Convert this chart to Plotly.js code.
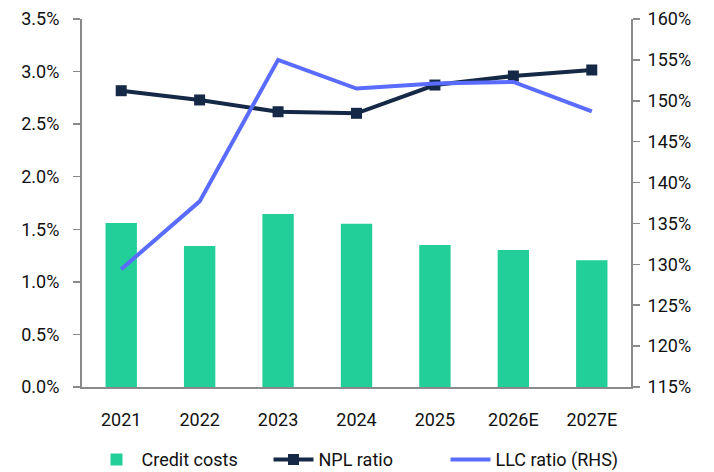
<!DOCTYPE html>
<html>
<head>
<meta charset="utf-8">
<script src="https://cdn.plot.ly/plotly-3.0.1.min.js"></script>
<style>html,body{margin:0;padding:0;background:#fff;}#chart{width:714px;height:472px;}</style>
</head>
<body>
<div id="chart"></div>
<script>
const years = ["2021", "2022", "2023", "2024", "2025", "2026E", "2027E"];
const creditCosts = [1.56, 1.34, 1.645, 1.553, 1.35, 1.303, 1.205];
const nplRatio = [2.818, 2.73, 2.618, 2.603, 2.872, 2.958, 3.015];
const llcRatio = [129.4, 137.7, 155.0, 151.5, 152.1, 152.3, 148.7];
const leftTicks = [0, 0.5, 1.0, 1.5, 2.0, 2.5, 3.0, 3.5];
const rightTicks = [115, 120, 125, 130, 135, 140, 145, 150, 155, 160];

const font = {family: "Roboto, 'Liberation Sans', sans-serif", size: 18, color: "#111111"};

const traces = [
  {type: "bar", name: "Credit costs", x: years, y: creditCosts, marker: {color: "#22cf99"}, yaxis: "y"},
  {type: "scatter", mode: "lines+markers", name: "NPL ratio", x: years, y: nplRatio,
   line: {color: "#152846", width: 4}, marker: {symbol: "square", size: 11, color: "#152846"}, yaxis: "y"},
  {type: "scatter", mode: "lines", name: "LLC ratio (RHS)", x: years, y: llcRatio,
   line: {color: "#5a6cff", width: 4}, yaxis: "y2"}
];

const layout = {
  width: 714, height: 472,
  margin: {l: 82, r: 83, t: 19, b: 85},
  paper_bgcolor: "#fff", plot_bgcolor: "#fff",
  font: font,
  bargap: 0.6,
  showlegend: true,
  legend: {orientation: "h", x: 0.5, xanchor: "center", xref: "container",
           y: 0.026, yanchor: "middle", yref: "container",
           font: font, itemwidth: 40, entrywidth: 122, entrywidthmode: "pixels",
           traceorder: "normal"},
  xaxis: {type: "category", showline: true, linecolor: "#8a8a8a", linewidth: 2,
          ticks: "", showgrid: false, zeroline: false, ticklabelstandoff: 15, tickfont: font},
  yaxis: {range: [0, 3.5], tickvals: leftTicks, ticktext: leftTicks.map(v => v.toFixed(1) + "%"),
          showline: true, linecolor: "#8a8a8a", linewidth: 2, ticks: "outside", ticklen: 7,
          tickcolor: "#8a8a8a", tickwidth: 1.5, showgrid: false, zeroline: false,
          ticklabelstandoff: 10, tickfont: font},
  yaxis2: {range: [115, 160], tickvals: rightTicks, ticktext: rightTicks.map(v => v + "%"),
           overlaying: "y", side: "right", showline: true, linecolor: "#8a8a8a", linewidth: 2,
           ticks: "outside", ticklen: 7, tickcolor: "#8a8a8a", tickwidth: 1.5,
           showgrid: false, zeroline: false, ticklabelstandoff: 4, tickfont: font}
};

Plotly.newPlot("chart", traces, layout, {displayModeBar: false, staticPlot: true});
</script>
</body>
</html>
